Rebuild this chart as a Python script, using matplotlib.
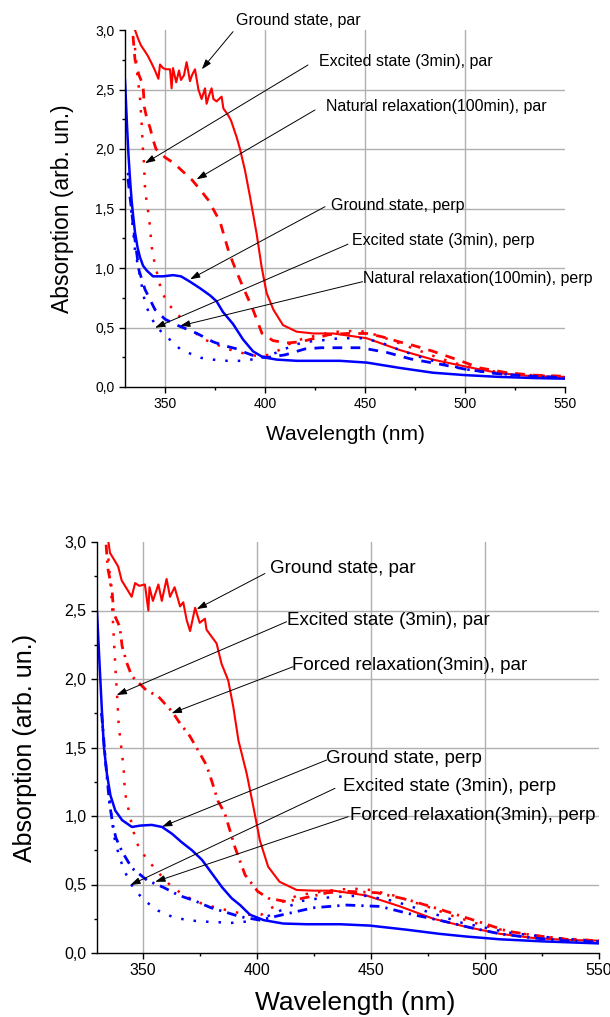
import matplotlib
matplotlib.use('Agg')
import matplotlib.pyplot as plt

plt.rcParams['font.family'] = ['Liberation Sans', 'DejaVu Sans']

# ---- top panel data (natural relaxation) ----
top_gp_wl = [335, 336.7, 338, 340, 341.5, 343.3, 345, 346.7, 347.5, 349, 350.5, 352.5, 353.3, 354,
             355.6, 357, 358, 359.5, 360.8, 362.5, 363.5, 365, 366.7, 368.3, 370, 370.8, 372, 373.3,
             374.2, 375.8, 377, 378.3, 379.2, 380.5, 381.7, 383, 384.2, 385.8, 387.5, 390, 392.5,
             395.8, 398.3, 400.8, 404.2, 409, 415.8, 424, 434, 450.8, 467.5, 484, 500.8, 517.5, 534, 550]
top_gp_a = [3.0, 2.92, 2.87, 2.82, 2.78, 2.72, 2.66, 2.59, 2.71, 2.68, 2.67, 2.67, 2.51, 2.68,
            2.56, 2.66, 2.58, 2.62, 2.73, 2.57, 2.62, 2.67, 2.5, 2.42, 2.51, 2.38, 2.45, 2.51,
            2.42, 2.40, 2.42, 2.44, 2.34, 2.31, 2.28, 2.24, 2.18, 2.10, 2.0, 1.82, 1.60,
            1.29, 1.01, 0.79, 0.65, 0.52, 0.465, 0.45, 0.45, 0.41, 0.31, 0.23, 0.17, 0.115, 0.09, 0.085]

top_ep_wl = [335, 336, 337.5, 338.3, 339, 339.5, 340, 340.8, 341.7, 342.5, 343, 343.7, 345, 346.7,
             348.3, 352, 357.5, 364, 368, 374, 381, 390, 396, 402, 407, 412, 418, 425, 433, 441,
             448, 455, 462, 470, 478, 486, 495, 505, 515, 525, 537, 550]
top_ep_a = [2.85, 2.65, 2.43, 2.22, 1.99, 1.88, 1.67, 1.56, 1.46, 1.35, 1.24, 1.13, 1.03, 0.91,
            0.80, 0.69, 0.59, 0.48, 0.41, 0.37, 0.32, 0.28, 0.26, 0.27, 0.31, 0.36, 0.40, 0.43, 0.46, 0.47,
            0.47, 0.44, 0.40, 0.35, 0.30, 0.25, 0.20, 0.16, 0.13, 0.11, 0.095, 0.09]

top_np_wl = [334, 335, 337, 339, 339.7, 341, 342.5, 344, 345.5, 350, 354.5, 359, 363.5, 367, 371.7,
             377.5, 382, 385.5, 389, 394, 398.5, 404, 411, 418, 425, 432, 441, 451, 459, 467, 474,
             484, 496, 507.5, 521, 534, 550]
top_np_a = [2.95, 2.75, 2.62, 2.54, 2.35, 2.25, 2.18, 2.08, 2.0, 1.93, 1.88, 1.81, 1.74, 1.67, 1.57,
            1.39, 1.13, 0.98, 0.84, 0.65, 0.45, 0.39, 0.37, 0.38, 0.41, 0.44, 0.45, 0.45, 0.42, 0.38, 0.35,
            0.30, 0.23, 0.16, 0.12, 0.10, 0.09]

top_gs_wl = [330, 331, 331.7, 332.5, 333.3, 334, 335, 336.3, 337.5, 339, 340.8, 344, 349, 354, 358,
             362.5, 367.5, 372.5, 375.8, 379, 384, 389, 394, 399, 406, 416, 437.5, 451, 467.5, 484,
             500, 517, 535, 550]
top_gs_a = [2.58, 2.2, 1.96, 1.75, 1.57, 1.45, 1.30, 1.17, 1.09, 1.02, 0.98, 0.93, 0.93, 0.94, 0.93,
            0.885, 0.83, 0.77, 0.72, 0.63, 0.53, 0.40, 0.30, 0.25, 0.23, 0.22, 0.22, 0.205, 0.16, 0.12,
            0.10, 0.085, 0.075, 0.07]

top_es_wl = [331.5, 333, 335, 337.5, 340, 342.5, 346, 351, 357.5, 364, 368, 374, 381, 390, 396, 403,
             410, 416, 421, 427.5, 437.5, 448, 457, 467.5, 478, 490, 500, 512, 525, 537, 550]
top_es_a = [1.8, 1.5, 1.15, 0.93, 0.71, 0.60, 0.50, 0.42, 0.32, 0.27, 0.245, 0.23, 0.22, 0.22, 0.24, 0.27,
            0.32, 0.36, 0.38, 0.39, 0.41, 0.41, 0.38, 0.31, 0.25, 0.19, 0.15, 0.12, 0.10, 0.085, 0.08]

top_ns_wl = [331.5, 334.5, 337, 340, 345, 350, 356, 366, 374, 379, 386, 390, 396.5, 402, 410, 420,
             428, 436, 448, 461, 473, 488, 500, 517, 534, 550]
top_ns_a = [1.75, 1.3, 0.98, 0.82, 0.65, 0.57, 0.52, 0.45, 0.38, 0.35, 0.32, 0.29, 0.25, 0.25, 0.27, 0.32,
            0.33, 0.33, 0.33, 0.29, 0.235, 0.19, 0.15, 0.11, 0.09, 0.08]

# ---- bottom panel data (forced relaxation) ----
bot_gp_wl = [335, 335.7, 337.9, 339.3, 340.8, 343, 345.2, 346.7, 348.5, 351, 352.5, 353, 354.5, 356.9,
             358.4, 360.5, 362, 364, 366.4, 367.8, 369.3, 370.8, 373, 375, 377.3, 378, 380.2, 382.4,
             384.6, 387.5, 389.7, 392, 395.6, 398.5, 401.4, 405, 410, 417.5, 425, 433.6, 448, 462.8,
             477.4, 492, 506.6, 521, 535.8, 550]
bot_gp_a = [3.0, 2.92, 2.86, 2.82, 2.72, 2.66, 2.60, 2.70, 2.68, 2.69, 2.50, 2.67, 2.57, 2.69,
            2.57, 2.73, 2.60, 2.67, 2.53, 2.56, 2.43, 2.35, 2.52, 2.41, 2.44, 2.36, 2.31, 2.26,
            2.11, 1.99, 1.80, 1.55, 1.31, 1.07, 0.82, 0.63, 0.52, 0.46, 0.455, 0.455, 0.42, 0.34,
            0.25, 0.19, 0.14, 0.11, 0.095, 0.09]

bot_ep_wl = [335, 335.9, 336.6, 337.3, 338, 338.8, 339.5, 340.2, 341, 341.7, 342, 342.7, 344.2, 345.6,
             347.5, 351.2, 356.7, 362.9, 369.4, 376, 382.6, 390, 396, 402, 406.6, 412, 418, 425, 434,
             442, 450, 460, 474.5, 486, 499.4, 512.5, 530, 550]
bot_ep_a = [2.88, 2.70, 2.54, 2.32, 2.10, 1.88, 1.67, 1.56, 1.45, 1.34, 1.24, 1.13, 1.02, 0.91,
            0.80, 0.70, 0.59, 0.48, 0.41, 0.36, 0.33, 0.30, 0.28, 0.28, 0.33, 0.38, 0.42, 0.44, 0.46,
            0.47, 0.46, 0.42, 0.34, 0.27, 0.20, 0.15, 0.11, 0.09]

bot_fp_wl = [334, 334.7, 336.6, 337.3, 340, 341, 343, 345.3, 351.5, 357, 363, 365.8, 370.8, 374.6, 378,
             380.4, 383, 386, 390.5, 394.9, 400.4, 405, 413, 423, 431, 439.6, 452.7, 466, 480, 497,
             509.7, 521, 535.8, 550]
bot_fp_a = [2.98, 2.81, 2.65, 2.48, 2.38, 2.24, 2.12, 2.02, 1.92, 1.87, 1.76, 1.69, 1.58, 1.47, 1.37,
            1.25, 1.11, 1.02, 0.77, 0.57, 0.45, 0.40, 0.375, 0.41, 0.44, 0.45, 0.44, 0.39, 0.32, 0.23,
            0.16, 0.13, 0.10, 0.09]

bot_gs_wl = [330, 331, 332.2, 333, 334.4, 335.9, 338, 341, 345.3, 349, 354, 358.5, 362.9, 367, 371.6,
             376, 380.4, 384.8, 389, 392.7, 397, 403, 411.6, 421.9, 436.5, 449.6, 465.7, 480, 492,
             506.6, 525, 550]
bot_gs_a = [2.49, 2.15, 1.75, 1.51, 1.30, 1.15, 1.04, 0.97, 0.92, 0.93, 0.935, 0.92, 0.87, 0.81, 0.75,
            0.68, 0.58, 0.48, 0.40, 0.35, 0.28, 0.24, 0.215, 0.21, 0.21, 0.20, 0.17, 0.14, 0.12,
            0.10, 0.085, 0.07]

bot_es_wl = [332, 334, 336, 337.5, 339.5, 341.7, 345, 350.2, 356.7, 362.9, 369.4, 376, 382.6, 389, 396,
             402, 408, 414, 420, 427.7, 435, 446.7, 460, 475, 490, 510, 530, 550]
bot_es_a = [1.75, 1.35, 1.05, 0.85, 0.72, 0.61, 0.50, 0.39, 0.31, 0.265, 0.24, 0.23, 0.225, 0.22, 0.23,
            0.25, 0.29, 0.34, 0.38, 0.40, 0.41, 0.42, 0.38, 0.30, 0.22, 0.15, 0.11, 0.085]

bot_fs_wl = [332, 334, 335.5, 337, 338.3, 341, 345.3, 352, 359, 366, 373, 380, 386, 392.7, 401.4, 411.5,
             424.7, 439.4, 454, 468.5, 482.5, 495, 506.6, 521, 535, 550]
bot_fs_a = [1.75, 1.35, 1.09, 0.93, 0.84, 0.74, 0.62, 0.53, 0.48, 0.42, 0.38, 0.33, 0.30, 0.265, 0.24, 0.28,
            0.33, 0.35, 0.34, 0.28, 0.23, 0.18, 0.14, 0.11, 0.09, 0.08]

x_ticks = [350, 400, 450, 500, 550]
x_ticklabels = ['350', '400', '450', '500', '550']
y_ticks = [0.0, 0.5, 1.0, 1.5, 2.0, 2.5, 3.0]
y_ticklabels = ['0,0', '0,5', '1,0', '1,5', '2,0', '2,5', '3,0']

# annotation label, text anchor (wl, A), line start (wl, A), arrow tip (wl, A)
top_notes = [
    ('Ground state, par', (385.5, 3.08), (384.0, 2.986), (368.4, 2.67)),
    ('Excited state (3min), par', (427.0, 2.734), (421.5, 2.706), (340.0, 1.88)),
    ('Natural relaxation(100min), par', (430.5, 2.353), (425.0, 2.328), (365.8, 1.745)),
    ('Ground state, perp', (432.8, 1.529), (430.0, 1.515), (362.5, 0.905)),
    ('Excited state (3min), perp', (443.3, 1.235), (441.5, 1.20), (345.0, 0.498)),
    ('Natural relaxation(100min), perp', (449.2, 0.908), (448.8, 0.885), (357.5, 0.513)),
]
bot_notes = [
    ('Ground state, par', (405.8, 2.81), (403.6, 2.77), (373.7, 2.51)),
    ('Excited state (3min), par', (413.3, 2.43), (413.1, 2.418), (338.6, 1.883)),
    ('Forced relaxation(3min), par', (415.5, 2.10), (416.0, 2.09), (362.7, 1.75)),
    ('Ground state, perp', (430.4, 1.423), (430.7, 1.409), (358.5, 0.922)),
    ('Excited state (3min), perp', (437.9, 1.212), (434.3, 1.202), (344.6, 0.496)),
    ('Forced relaxation(3min), perp', (440.9, 1.0), (440.1, 0.995), (355.5, 0.52)),
]

RED = '#ff0000'
BLUE = '#0000ff'
DOTTED = (0, (1, 4))
DASHED = (0, (3.5, 3))
DASHDOT = (0, (3.5, 2.2, 0.8, 2.2))


def style_axes(ax, tick_fs, xlab_fs, ylab_fs, ylab_x, xlab_pos):
    ax.set_xlim(330, 550)
    ax.set_ylim(0, 3.0)
    for s in ['top', 'right']:
        ax.spines[s].set_visible(False)
    for s in ['left', 'bottom']:
        ax.spines[s].set_linewidth(1.0)
    ax.set_xticks(x_ticks)
    ax.set_xticklabels(x_ticklabels)
    ax.set_yticks(y_ticks)
    ax.set_yticklabels(y_ticklabels)
    ax.set_xticks([375, 425, 475, 525], minor=True)
    ax.set_yticks([0.25, 0.75, 1.25, 1.75, 2.25, 2.75], minor=True)
    ax.tick_params(which='major', direction='out', length=4, width=1, labelsize=tick_fs)
    ax.tick_params(which='minor', direction='out', length=2.5, width=1)
    for v in x_ticks[:-1]:
        ax.axvline(v, color='#b0b0b0', lw=1.0, zorder=0)
    for v in y_ticks[1:-1]:
        ax.axhline(v, color='#b0b0b0', lw=1.0, zorder=0)
    ax.set_xlabel('Wavelength (nm)', fontsize=xlab_fs, va='center')
    ax.set_ylabel('Absorption (arb. un.)', fontsize=ylab_fs, va='center')
    ax.xaxis.set_label_coords(*xlab_pos)
    ax.yaxis.set_label_coords(ylab_x, 0.5)


def add_notes(ax, notes, fs):
    for label, txt, start, tip in notes:
        ax.annotate('', xy=tip, xytext=start, annotation_clip=False,
                    arrowprops=dict(arrowstyle='-|>,head_length=0.6,head_width=0.2',
                                    color='black', lw=0.7, mutation_scale=10,
                                    shrinkA=0, shrinkB=0))
        ax.text(txt[0], txt[1], label, fontsize=fs, ha='left', va='center', clip_on=False)


fig = plt.figure(figsize=(6.1, 10.17), dpi=100)

ax1 = fig.add_axes([125 / 610, 630 / 1017, 440 / 610, 357 / 1017])
ax1.plot(top_gp_wl, top_gp_a, color=RED, lw=1.5)
ax1.plot(top_ep_wl, top_ep_a, color=RED, lw=1.8, ls=DOTTED)
ax1.plot(top_np_wl, top_np_a, color=RED, lw=2.0, ls=DASHED)
ax1.plot(top_gs_wl, top_gs_a, color=BLUE, lw=1.8)
ax1.plot(top_es_wl, top_es_a, color=BLUE, lw=1.8, ls=DOTTED)
ax1.plot(top_ns_wl, top_ns_a, color=BLUE, lw=2.0, ls=DASHED)
style_axes(ax1, 10, 15, 16.5, -0.143, (0.5, -0.132))
add_notes(ax1, top_notes, 11.5)

ax2 = fig.add_axes([97 / 610, 64 / 1017, 502 / 610, 411 / 1017])
ax2.plot(bot_gp_wl, bot_gp_a, color=RED, lw=1.5)
ax2.plot(bot_ep_wl, bot_ep_a, color=RED, lw=1.8, ls=DOTTED)
ax2.plot(bot_fp_wl, bot_fp_a, color=RED, lw=2.0, ls=DASHDOT)
ax2.plot(bot_gs_wl, bot_gs_a, color=BLUE, lw=1.8)
ax2.plot(bot_es_wl, bot_es_a, color=BLUE, lw=1.8, ls=DOTTED)
ax2.plot(bot_fs_wl, bot_fs_a, color=BLUE, lw=2.0, ls=DASHDOT)
style_axes(ax2, 11.5, 19, 18, -0.143, (0.514, -0.122))
add_notes(ax2, bot_notes, 13.5)

fig.savefig('out.png', dpi=100)
